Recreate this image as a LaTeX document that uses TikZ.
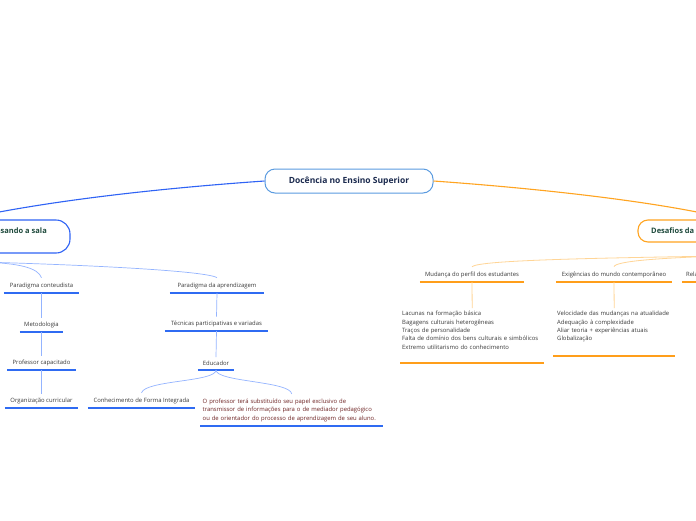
\documentclass[tikz,border=0pt]{standalone}
\usepackage{fontspec}
\setmainfont{Open Sans}
\definecolor{navy}{HTML}{1B2A4E}
\definecolor{dgreen}{HTML}{1E4A3C}
\definecolor{cborder}{HTML}{5A9BE0}
\definecolor{mblue}{HTML}{2F63F5}
\definecolor{lblue}{HTML}{94B4FF}
\definecolor{ulblue}{HTML}{2F6BF2}
\definecolor{morange}{HTML}{FFA420}
\definecolor{lorange}{HTML}{FFD596}
\definecolor{ulorange}{HTML}{FF9E1A}
\definecolor{txt}{HTML}{3A3A3A}
\definecolor{dred}{HTML}{6E2424}
\tikzset{
  centre/.style={draw=cborder, line width=1pt, rounded corners=10pt, fill=white,
    minimum width=168pt, minimum height=24pt, font=\fontsize{8.5}{10}\selectfont\bfseries, text=navy},
  mainb/.style={draw=mblue, line width=1.1pt, rounded corners=14pt, fill=white,
    font=\fontsize{7.5}{9}\selectfont\bfseries, text=dgreen},
  maino/.style={draw=morange, line width=1.1pt, rounded corners=10pt, fill=white,
    font=\fontsize{7.5}{9}\selectfont\bfseries, text=dgreen},
  leaf/.style={font=\fontsize{5.9}{8.4}\selectfont, text=txt, inner xsep=0pt, inner ysep=4pt, anchor=south},
  para/.style={font=\fontsize{5.9}{8.4}\selectfont, inner ysep=4pt, anchor=south west, align=left},
  ulb/.style={draw=ulblue, line width=1.4pt},
  ulo/.style={draw=ulorange, line width=1.5pt},
  cb/.style={draw=lblue, line width=0.7pt},
  co/.style={draw=lorange, line width=0.8pt},
  linkb/.style={draw=mblue, line width=1.1pt},
  linko/.style={draw=morange, line width=1.1pt},
}
\begin{document}
\begin{tikzpicture}[x=1pt,y=-1pt]
\useasboundingbox (0,0) rectangle (696,520);
\clip (0,0) rectangle (696,520);
\fill[white] (0,0) rectangle (696,520);

% main nodes
\node[centre] (root) at (349,181) {Docência no Ensino Superior};
\node[mainb, minimum width=150pt, minimum height=33pt] (left) at (-5,236.5) {};
\node[anchor=east, font=\fontsize{7.5}{9}\selectfont\bfseries, text=dgreen, inner sep=0pt] (lefttxt) at (47,231) {Pensando a sala};
\node[maino, minimum width=150pt, minimum height=22pt] (right) at (713,231) {};
\node[anchor=west, font=\fontsize{7.5}{9}\selectfont\bfseries, text=dgreen, inner sep=0pt] (righttxt) at (651,231) {Desafios da docência};

\coordinate (ltop) at (-40,220);
\coordinate (rtop) at (740,222);
\draw[linkb] (root.west) .. controls (150,189) and (40,202) .. (ltop);
\draw[linko] (root.east) .. controls (560,190) and (680,205) .. (rtop);

% left blue sub-tree
\node[leaf, minimum width=75pt] (pc) at (41.5,293) {Paradigma conteudista};
\node[leaf, minimum width=43pt] (met) at (41.5,332) {Metodologia};
\node[leaf, minimum width=68pt] (prof) at (41.5,370) {Professor capacitado};
\node[leaf, minimum width=73pt] (org) at (41.5,408) {Organização curricular};
\node[leaf, minimum width=94pt] (pa) at (217,293) {Paradigma da aprendizagem};
\node[leaf, minimum width=103pt] (tec) at (216.5,331) {Técnicas participativas e variadas};
\node[leaf, minimum width=36pt] (edu) at (216,370) {Educador};
\node[leaf, minimum width=107pt] (cfi) at (141.5,408) {Conhecimento de Forma Integrada};
\node[para, text=dred, text width=178pt, inner xsep=2.5pt] (par) at (200,426) {O professor terá substituído seu papel exclusivo de\\transmissor de informações para o de mediador pedagógico\\ou de orientador do processo de aprendizagem de seu aluno.};

\foreach \n in {pc,met,prof,org,pa,tec,edu,cfi,par}
  \draw[ulb] (\n.south west) -- (\n.south east);

\coordinate (lsub) at (-20,262);
\draw[cb] (lsub) .. controls (20,263) and (38,268) .. ([yshift=1pt]pc.north);
\draw[cb] (lsub) .. controls (60,264) and (205,270) .. ([yshift=1pt]pa.north);
\draw[cb] (pc.south) -- (met.north);
\draw[cb] (met.south) -- (prof.north);
\draw[cb] (prof.south) -- (org.north);
\draw[cb] (pa.south) -- (tec.north);
\draw[cb] (tec.south) -- (edu.north);
\draw[cb] (edu.south) .. controls (216,382) and (146,380) .. ([yshift=1pt]cfi.north);
\draw[cb] (edu.south) .. controls (216,382) and (290,381) .. ([yshift=1pt]par.north);

% right orange sub-tree
\node[leaf, minimum width=104pt] (mud) at (472,282) {Mudança do perfil dos estudantes};
\node[leaf, minimum width=116pt] (exi) at (614,282) {Exigências do mundo contemporâneo};
\node[leaf, anchor=south west, minimum width=30pt, inner xsep=4pt] (rel) at (682,282) {Relações};
\node[para, anchor=north west, text=txt, text width=140pt, inner xsep=2pt, inner ysep=3pt] (mudl) at (400,308) {Lacunas na formação básica\\Bagagens culturais heterogêneas\\Traços de personalidade\\Falta de domínio dos bens culturais e simbólicos\\Extremo utilitarismo do conhecimento};
\node[para, anchor=north west, text=txt, text width=114pt, inner xsep=4pt, inner ysep=3pt] (exil) at (553,308) {Velocidade das mudanças na atualidade\\Adequação à complexidade\\Aliar teoria + experiências atuais\\Globalização};

\foreach \n in {mud,exi,rel}
  \draw[ulo] (\n.south west) -- (\n.south east);
\draw[ulo] ([yshift=-10.5pt]mudl.south west) -- ([yshift=-10.5pt]mudl.south east);
\draw[ulo] ([yshift=-10.5pt]exil.south west) -- ([yshift=-10.5pt]exil.south east);

\coordinate (rsub) at (720,256);
\draw[co] (rsub) .. controls (600,258) and (480,260) .. ([yshift=1pt]mud.north);
\draw[co] (rsub) .. controls (660,258) and (616,261) .. ([yshift=1pt]exi.north);
\draw[co] (mud.south) -- (mudl.north);
\draw[co] (exi.south) -- (exil.north);
\end{tikzpicture}
\end{document}
